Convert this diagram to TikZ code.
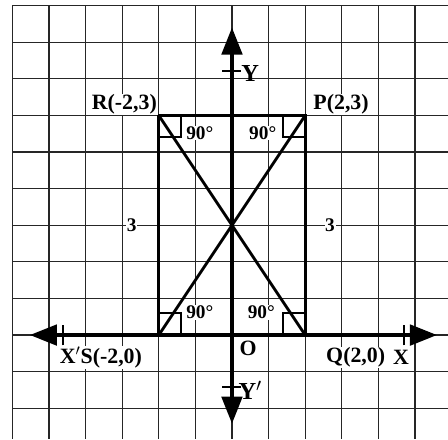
\documentclass[tikz,border=0pt]{standalone}
\usepackage{fontspec}
\setmainfont{Liberation Serif}
\usetikzlibrary{arrows.meta, calc}

\begin{document}
\begin{tikzpicture}[
        x=1cm, y=2cm,
        gridline/.style={line width=0.9pt, black!85},
        axis/.style={line width=2.6pt, {Triangle[length=21pt,width=16pt]}-{Triangle[length=21pt,width=16pt]}},
        side/.style={line width=2.2pt},
        rightmark/.style={line width=1.5pt},
        tickmark/.style={line width=1.3pt},
        ptlabel/.style={font=\fontsize{17}{19}\selectfont\bfseries, fill=white, inner sep=0.5pt},
        anglabel/.style={font=\fontsize{15}{17}\selectfont\bfseries, fill=white, inner sep=0.5pt},
        axlabel/.style={font=\fontsize{19}{21}\selectfont\bfseries, inner sep=0.5pt},
    ]
    \useasboundingbox (-6.338,-1.421) rectangle (5.902,4.577);

    % squared paper
    \foreach \x in {-6,-5,...,5}
        \draw[gridline] (\x,4.5) -- (\x,-1.421);
    \foreach \y in {-1,-0.5,...,4.5}
        \draw[gridline] (-6,\y) -- (5.902,\y);

    % corners of the rectangle
    \coordinate (R) at (-2,3);
    \coordinate (P) at (2,3);
    \coordinate (Q) at (2,0);
    \coordinate (S) at (-2,0);

    % axes
    \coordinate (xl) at (-5.52,0);
    \coordinate (xr) at (5.60,0);
    \coordinate (yt) at (0,4.20);
    \coordinate (yb) at (0,-1.21);
    \draw[axis] (xl) -- (xr);
    \draw[axis] (yb) -- (yt);
    \draw[tickmark] (-4.62,-0.14) -- (-4.62,0.14);
    \draw[tickmark] (4.70,-0.14) -- (4.70,0.14);
    \draw[tickmark] (-0.26,3.61) -- (0.26,3.61);
    \draw[tickmark] (-0.26,-0.71) -- (0.26,-0.71);

    % rectangle and diagonals
    \draw[side] (R) -- (P) -- (Q) -- (S) -- cycle;
    \draw[side] (R) -- (Q);
    \draw[side] (P) -- (S);

    % right angle marks
    \draw[rightmark] ($(R)+(0.6,0)$) -- ++(0,-0.3) -- ++(-0.6,0);
    \draw[rightmark] ($(P)+(-0.6,0)$) -- ++(0,-0.3) -- ++(0.6,0);
    \draw[rightmark] ($(S)+(0.6,0)$) -- ++(0,0.3) -- ++(-0.6,0);
    \draw[rightmark] ($(Q)+(-0.6,0)$) -- ++(0,0.3) -- ++(0.6,0);

    % labels
    \node[ptlabel] (lR) at (-2.94,3.15) {R(-2,3)};
    \node[ptlabel] (lP) at (2.98,3.15) {P(2,3)};
    \node[ptlabel] (lS) at (-3.58,-0.31) {X$'$S(-2,0)};
    \node[ptlabel] (lQ) at (3.38,-0.31) {Q(2,0)};
    \node[ptlabel] (lX) at (4.62,-0.31) {X};
    \node[ptlabel] (lO) at (0.44,-0.18) {O};
    \node[axlabel] (lY) at (0.5,3.57) {Y};
    \node[axlabel] (lYp) at (0.5,-0.75) {Y$'$};

    \node[anglabel] (aR) at (-0.88,2.76) {90°};
    \node[anglabel] (aP) at (0.84,2.76) {90°};
    \node[anglabel] (aS) at (-0.88,0.31) {90°};
    \node[anglabel] (aQ) at (0.80,0.31) {90°};

    \node[anglabel] (sL) at (-2.74,1.5) {3};
    \node[anglabel] (sR) at (2.68,1.5) {3};
\end{tikzpicture}
\end{document}
